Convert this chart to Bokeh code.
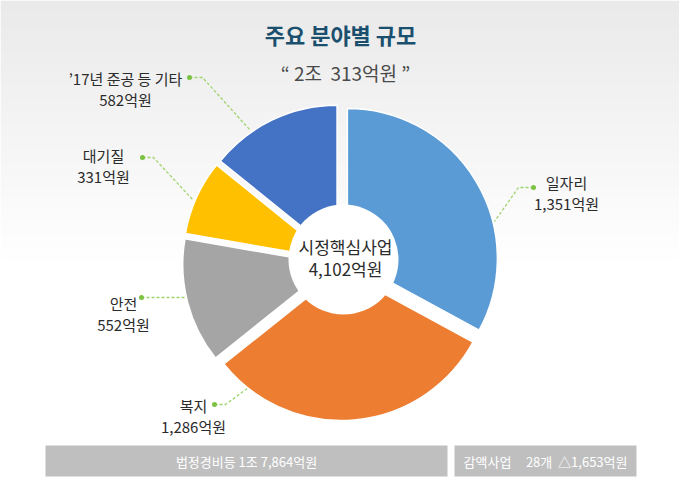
import math
from bokeh.plotting import figure
from bokeh.models import Range1d
from bokeh.core.properties import value
from bokeh.embed import file_html
from bokeh.resources import INLINE

# ---- data ----
categories = ["일자리", "복지", "안전", "대기질", "’17년 준공 등 기타"]
amounts = [1351, 1286, 552, 331, 582]
colors = ["#5b9bd5", "#ed7d31", "#a5a5a5", "#ffc000", "#4472c4"]
title_text = "주요 분야별 규모"
subtitle_text = "“ 2조\u00a0\u00a0313억원 ”"
center_name = "시정핵심사업"
bottom_labels = ["법정경비등 1조 7,864억원",
                 "감액사업\u00a0\u00a0\u00a0\u00a0\u00a028개\u00a0\u00a0△1,653억원"]

W, H = 679, 490
FONT = value("Noto Sans CJK KR")


def X(sx):
    return sx


def Y(sy):
    return H - sy


p = figure(width=W, height=H, x_range=Range1d(0, W), y_range=Range1d(0, H),
           min_border=0, toolbar_location=None, output_backend="svg")
p.axis.visible = False
p.grid.visible = False
p.outline_line_color = None
p.background_fill_color = "white"
p.border_fill_color = "white"

# background gradient (decoration)
nb = 40
top_c, bot_sy = 234, 260
for i in range(nb):
    s0 = i * bot_sy / nb
    s1 = (i + 1) * bot_sy / nb
    c = int(top_c + (255 - top_c) * (i + 0.5) / nb)
    p.quad(left=0, right=W, top=Y(s0), bottom=Y(s1) - 0.5,
           fill_color=f"#{c:02x}{c:02x}{c:02x}", line_color=None)

# ---- donut ----
cx, cy = X(340), Y(262)
R_out, R_in, expl = 150, 40, 8
total = sum(amounts)
cum = 0.0
xs, ys, starts, ends = [], [], [], []
for a in amounts:
    a0 = cum / total * 2 * math.pi
    cum += a
    a1 = cum / total * 2 * math.pi
    m = (a0 + a1) / 2
    xs.append(cx + expl * math.sin(m))
    ys.append(cy + expl * math.cos(m))
    starts.append(math.pi / 2 - a0)
    ends.append(math.pi / 2 - a1)

p.annular_wedge(x=xs, y=ys, inner_radius=R_in, outer_radius=R_out,
                start_angle=starts, end_angle=ends, direction="clock",
                fill_color=colors, line_color="white", line_width=1.5)
# white centre disc
p.circle(x=[X(343)], y=[Y(259)], radius=55, fill_color="white", line_color=None)

# center text
p.text(x=[X(345), X(345)], y=[Y(246), Y(268)],
       text=[center_name, f"{total:,}억원"], text_font=FONT, text_font_size="17px",
       text_align="center", text_baseline="middle", text_color="#2b2b2b")

# ---- labels with leader lines ----
label_pos = [(566, 182), (193, 405), (123, 303), (103, 155), (125, 78)]
dots = [(533, 187), (214, 404), (141, 297), (142, 157), (189, 77)]
leaders = [
    [(533, 187), (518, 187), (494, 221)],
    [(214, 404), (225, 404), (248, 387)],
    [(141, 297), (186, 297)],
    [(142, 157), (153, 157), (193, 200)],
    [(189, 77), (202, 77), (250, 130)],
]
p.multi_line(xs=[[X(q[0]) for q in L] for L in leaders],
             ys=[[Y(q[1]) for q in L] for L in leaders],
             line_color="#9fd46e", line_width=1.3, line_dash="3 2")
p.scatter(x=[X(d[0]) for d in dots], y=[Y(d[1]) for d in dots],
          size=5, color="#7cc242", line_color=None)

p.text(x=[X(lp[0]) for lp in label_pos], y=[Y(lp[1]) for lp in label_pos],
       text=categories, text_font=FONT, text_font_size="15px",
       text_align="center", text_baseline="middle", text_color="#2b2b2b")
p.text(x=[X(lp[0]) for lp in label_pos], y=[Y(lp[1] + 21) for lp in label_pos],
       text=[f"{a:,}억원" for a in amounts], text_font=FONT, text_font_size="15px",
       text_align="center", text_baseline="middle", text_color="#2b2b2b")

# ---- title ----
p.text(x=[X(340)], y=[Y(33)], text=[title_text], text_font=FONT,
       text_font_size="22px", text_font_style="bold", text_align="center",
       text_baseline="middle", text_color="#1b4f6e")
p.text(x=[X(345)], y=[Y(72)], text=[subtitle_text], text_font=FONT,
       text_font_size="19px", text_align="center", text_baseline="middle",
       text_color="#4a4a4a")

# ---- bottom bars ----
p.quad(left=[X(45), X(454)], right=[X(447), X(636)],
       top=[Y(445), Y(445)], bottom=[Y(476), Y(476)],
       fill_color="#bfbfbf", line_color=None)
p.text(x=[X(246), X(545)], y=[Y(461), Y(461)], text=bottom_labels, text_font=FONT,
       text_font_size="13px", text_align="center", text_baseline="middle",
       text_color="white")

open("out.html", "w").write(file_html(p, INLINE))
